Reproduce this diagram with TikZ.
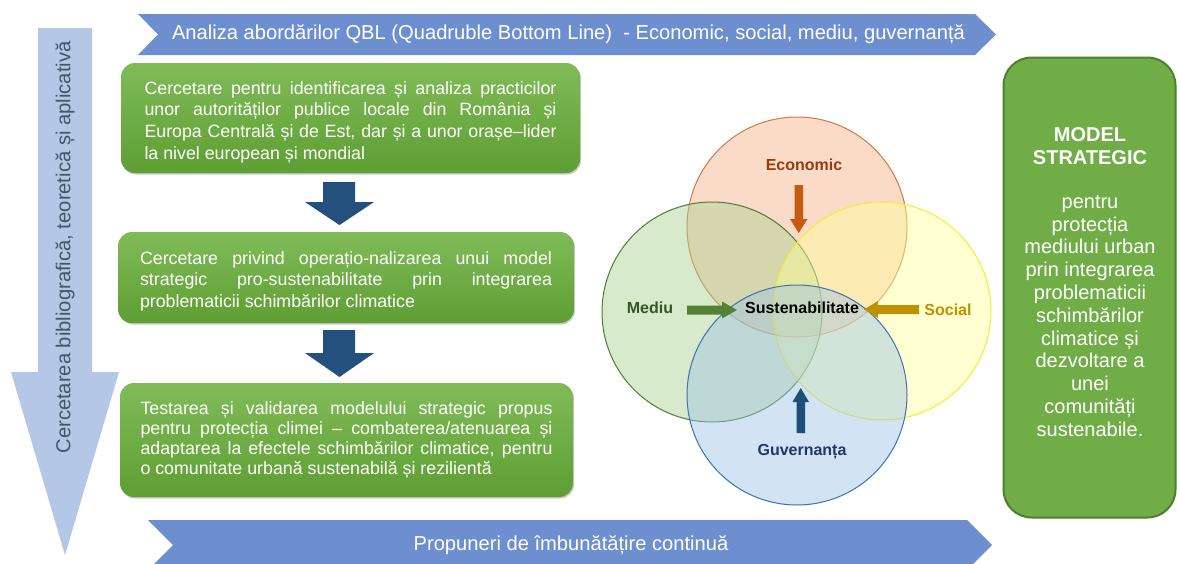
\documentclass[tikz,border=0pt]{standalone}
\usepackage{fontspec}
\setmainfont{Liberation Sans}
\usetikzlibrary{shadows}
\definecolor{chev}{HTML}{6E8FCF}
\definecolor{varrowc}{HTML}{B4C7E7}
\definecolor{vtextc}{HTML}{44546A}
\definecolor{gtop}{HTML}{80BB58}
\definecolor{gbot}{HTML}{5E9E33}
\definecolor{dblue}{HTML}{24507E}
\definecolor{rfill}{HTML}{70AD47}
\definecolor{rdraw}{HTML}{4F7E30}
\definecolor{ecoF}{HTML}{F4B183}
\definecolor{ecoD}{HTML}{CF7A46}
\definecolor{medF}{HTML}{A9D18E}
\definecolor{medD}{HTML}{4F7A3A}
\definecolor{socF}{HTML}{FFFF99}
\definecolor{socD}{HTML}{F2EE30}
\definecolor{govF}{HTML}{9DC3E6}
\definecolor{govD}{HTML}{3C72B0}
\definecolor{ecoA}{HTML}{C55A11}
\definecolor{ecoT}{HTML}{8F3F12}
\definecolor{medA}{HTML}{548235}
\definecolor{medT}{HTML}{375623}
\definecolor{socA}{HTML}{BF9000}
\definecolor{govA}{HTML}{1F4E79}
\definecolor{govT}{HTML}{1F3864}
\newcommand\jl[1]{\hbox to 412pt{#1}}
\begin{document}
\begin{tikzpicture}[x=1pt,y=-1pt,
  gbox/.style={rounded corners=14pt, top color=gtop, bottom color=gbot, draw=none,
    inner sep=0pt, text=white,
    drop shadow={shadow xshift=1pt, shadow yshift=-1.5pt, opacity=.22, fill=black}},
  chevtext/.style={text=white, font=\fontsize{20.15}{24}\selectfont, inner sep=0pt},
  vcirc/.style={circle, inner sep=0pt, minimum size=#1, line width=1pt, fill opacity=.45},
  vlab/.style={font=\bfseries\fontsize{16}{19}\selectfont, inner sep=0pt},
  rtext/.style={text=white, align=center, inner sep=0pt}
]
\useasboundingbox (0,0) rectangle (1177,563);
\fill[white] (0,0) rectangle (1177,563);

% vertical arrow
\fill[varrowc] (38,28) -- (92,28) -- (92,372) -- (119,372) -- (65,555) -- (11,372) -- (38,372) -- cycle;
\node[rotate=90, text=vtextc, font=\fontsize{20.2}{24}\selectfont, inner sep=0pt] (vt) at (65,247.5)
  {Cercetarea bibliografică, teoretică și aplicativă};

% top chevron
\fill[chev] (138,14) -- (975,14) -- (996,34.5) -- (975,55) -- (138,55) -- (158,34.5) -- cycle;
\node[chevtext] (toptext) at (568.5,34.5)
  {Analiza abordărilor QBL (Quadruble Bottom Line)\ \ - Economic, social, mediu, guvernanță};

% bottom chevron
\fill[chev] (148,520) -- (967,520) -- (992,545) -- (967,570) -- (148,570) -- (173,545) -- cycle;
\node[chevtext] (bottext) at (571,545) {Propuneri de îmbunătățire continuă};

% green boxes
\node[gbox, minimum width=459pt, minimum height=110pt, font=\fontsize{17.8}{21.7}\selectfont] (b1) at (350.5,118)
  {\vbox{\kern8pt
         \jl{Cercetare pentru identificarea și analiza practicilor}
         \jl{unor autorităților publice locale din România și}
         \jl{Europa Centrală și de Est, dar și a unor orașe–lider}
         \hbox{la nivel european și mondial}}};
\node[gbox, minimum width=456pt, minimum height=91pt, font=\fontsize{17.8}{21.5}\selectfont] (b2) at (346,277.5)
  {\vbox{\kern7pt
         \jl{Cercetare privind operațio-nalizarea unui model}
         \jl{strategic pro-sustenabilitate prin integrarea}
         \hbox{problematicii schimbărilor climatice}}};
\node[gbox, minimum width=453pt, minimum height=114pt, font=\fontsize{17.8}{19.8}\selectfont] (b3) at (346.5,440)
  {\vbox{\jl{Testarea și validarea modelului strategic propus}
         \jl{pentru protecția climei – combaterea/atenuarea și}
         \jl{adaptarea la efectele schimbărilor climatice, pentru}
         \hbox{o comunitate urbană sustenabilă și rezilientă}}};

% blue down arrows
\fill[dblue] (323,182) -- (355,182) -- (355,202) -- (374,202) -- (339.5,225) -- (305,202) -- (323,202) -- cycle;
\fill[dblue] (323,330) -- (355,330) -- (355,353) -- (374,353) -- (339.5,377) -- (305,353) -- (323,353) -- cycle;

% Venn circles
\node[vcirc=220pt, fill=ecoF, draw=ecoD] (ce) at (797,227) {};
\node[vcirc=220pt, fill=medF, draw=medD] (cm) at (712,312) {};
\node[vcirc=218pt, fill=socF, draw=socD] (cs) at (882,311) {};
\node[vcirc=220pt, fill=govF, draw=govD] (cg) at (797,395) {};

% Venn arrows
\fill[ecoA] (794.5,185) -- (803,185) -- (803,219) -- (807.5,219) -- (798.7,233) -- (790,219) -- (794.5,219) -- cycle;
\fill[medA] (687,305.5) -- (722,305.5) -- (722,301.5) -- (737,310) -- (722,318.5) -- (722,314.5) -- (687,314.5) -- cycle;
\fill[socA] (919,305) -- (878,305) -- (878,301) -- (864,309.5) -- (878,318) -- (878,314) -- (919,314) -- cycle;
\fill[govA] (796.5,433) -- (805,433) -- (805,402) -- (809,402) -- (800.7,388) -- (792.5,402) -- (796.5,402) -- cycle;

% Venn labels
\node[vlab, text=ecoT] (le) at (804,165) {Economic};
\node[vlab, text=medT] (lm) at (650,308) {Mediu};
\node[vlab, text=socA] (ls) at (948,310) {Social};
\node[vlab, text=govT] (lg) at (802,452) {Guvernanța};
\node[vlab, text=black] (lsus) at (802,308) {Sustenabilitate};

% right box
\node[rounded corners=28pt, fill=rfill, draw=rdraw, line width=2pt, minimum width=172pt, minimum height=460pt, inner sep=0pt] (rb) at (1089.5,287.5) {};
\node[rtext, font=\bfseries\fontsize{20}{23}\selectfont] (rt) at (1090,146.5) {MODEL\\STRATEGIC};
\node[rtext, font=\fontsize{20}{22.8}\selectfont] (rbody) at (1090,316)
  {pentru\\protecția\\mediului urban\\prin integrarea\\problematicii\\schimbărilor\\climatice și\\dezvoltare a\\unei\\comunități\\sustenabile.};
\end{tikzpicture}
\end{document}
